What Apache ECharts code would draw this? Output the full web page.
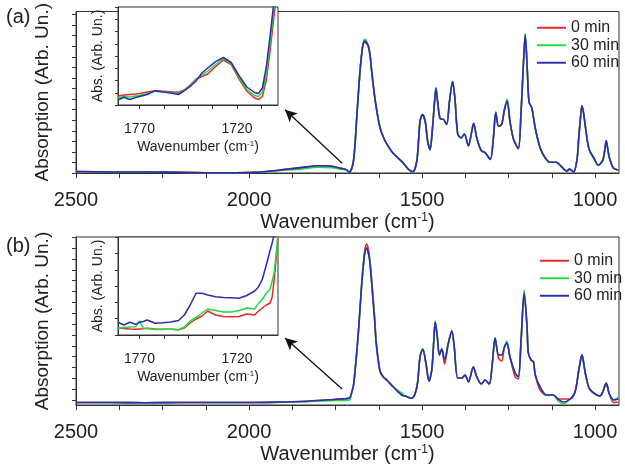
<!DOCTYPE html>
<html><head><meta charset="utf-8">
<script src="https://cdn.jsdelivr.net/npm/echarts@6/dist/echarts.min.js"></script>
<style>html,body{margin:0;padding:0;background:#fff}#c{width:625px;height:465px}</style>
</head><body><div id="c"></div>
<script>
// ---------- DATA ----------
const SERIES_NAMES = ['0 min', '30 min', '60 min'];
const COLORS = ['#e8262b', '#1fdc3c', '#2b2bb8'];

// Panel (a) main spectrum
const WN_A = [2500,2400,2300,2200,2100,2000,1950,1900,1850,1800,1760,1737,1720,1710,
  1703,1698,1693,1689,1684,1679,1674,1670,1666,1663,
  1659,1655,1650,1646,1641,1636,1628,1621,1612,1602,
  1583,1565,1554,1540,1527,1515,1506,1499,1491,1484,
  1477,1470,1464,1460,1455,1448,1438,1429,1421,1412,
  1405,1397,1387,1378,1366,1358,1351,1342,1329,1318,
  1303,1294,1287,1279,1270,1262,1254,1246,1236,1222,
  1214,1207,1202,1196,1191,1183,1173,1159,1145,1130,
  1113,1096,1082,1074,1062,1052,1048,1042,1038,1034,
  1029,1022,1016,1003,991,978,972,968,964,959,
  947,933];
const RED_A = [1.5,1.2,1.0,0.8,0.3,0.5,1.5,3.5,5.5,7.5,7,5,3.5,1,
  5,13,33,56,82,106,124,132.5,134.5,134,
  132.5,130,120,106,90,76,58,46,37,30,
  20,14,10,4,1.3,13,53,60,53,33,
  24,46,73,86,73,56,55,50,73,94,
  76,40,36,40,28,40,51,36,23,21,
  14,36,62,48,50,65,73,53,35,25,
  63,113,140.5,106,73,67,46,26,16,11,
  11,6,2,4,1,15,33,58,69,63,
  50,32,23,15,8,13,24,33,26,16,
  5,3];
const GREEN_A = [1.5,1.2,1.0,0.8,0.3,0.5,1.3,2.8,4,6,5.5,4,3,1,
  5,13,33,56,82,106,124,134,137.5,137,
  134,131,120,106,90,76,58,46,37,30,
  20,14,10,4,1.3,13,53,60,53,33,
  24,46,73,88,73,56,55,50,73,94,
  76,40,36,40,28,40,51,36,23,21,
  14,36,63,48,50,66,76,53,35,25,
  63,113,143.5,106,73,67,46,26,16,11,
  11,6,2,4,1,15,33,58,69,63,
  50,32,23,15,8,13,24,33,26,16,
  5,3];
const BLUE_A = [1.5,1.2,1.0,0.8,0.3,0.5,1.5,3.5,5.5,7.5,7,5,3.5,1,
  5,13,33,56,82,106,124,133,135.5,135,
  133,130,120,106,90,76,58,46,37,30,
  20,14,10,4,1.3,13,53,60,53,33,
  24,46,73,87,73,56,55,50,73,94,
  76,40,36,40,28,40,51,36,23,21,
  14,36,62,48,50,65,74,53,35,25,
  63,113,142,106,73,67,46,26,16,11,
  11,6,2,4,1,15,33,58,69,63,
  50,32,23,15,8,13,24,33,26,16,
  5,3];

// Panel (a) inset
const WN_INSET_A = [1781,1778,1775,1772,1770,1766,1762,1758,1754,1750,1747,1744,1741,1738,1735,1731,1727,1723,1719,1715,1711,1709,1707,1705,1703,1701,1699];
const RED_INSET_A = [9,10,10.5,11,11.5,13,14.3,13.8,13.3,12.7,15,20,26,28.5,31,38.5,45,40.5,26,14,7,5.7,8.5,25,55,90,120];
const GREEN_INSET_A = [7,8.5,8,9,9.5,11.5,13.8,13.2,12.5,11.5,14.5,19,25.5,30,34,40.5,46.5,41.5,27.5,15.5,9.5,8.5,12.5,31,62,98,125];
const BLUE_INSET_A = [5,7.7,5.5,7.5,8.5,10.5,14.3,13,12,10.5,14.3,18.5,24,32,37,43.3,47.5,42.5,29.5,18,12.5,11.5,17,38,70,105,130];

// Panel (b) main spectrum
const WN_B = [2500,2400,2300,2200,2100,2000,1900,1850,1800,1737,1710,
  1703,1698,1694,1689,1684,1679,1674,1669,1665,1660,
  1656,1652,1647,1642,1637,1633,1627,1621,1612,1602,
  1583,1559,1549,1530,1515,1506,1498,1489,1480,1472,
  1466,1462,1456,1450,1443,1435,1424,1414,1407,1397,
  1385,1376,1366,1352,1342,1329,1318,1306,1297,1289,
  1279,1270,1262,1255,1246,1231,1222,1214,1205,1197,
  1193,1185,1178,1173,1159,1140,1121,1107,1092,1072,
  1058,1048,1042,1038,1034,1029,1022,1016,1000,986,
  978,972,968,964,959,946,933];
const RED_B = [2.5,2.5,2.3,2.5,2.5,2.5,3,3.5,4.5,6,7,
  13,20,33,52,73,98,123,143,156,161,
  157,149,131,110,88,66,47,34,28,25,
  18,10,9,6.7,18,48,56,42,24,35,
  65,83,68,50,56,41,62,74,58,27,
  27,30,23,38,28,21,25,21,42,67,
  46.7,44,58,62,48,28,26,63,111,80,
  52,45,43,30,15,10,10,6,6,6,
  13,33,45,50,44,33,22,16,11,9,
  13,19,22,18,11,2.3,3];
const GREEN_B = [2.5,2.5,2.3,2.5,2.5,2.5,3,3.2,4,4.5,5,
  13,20,33,52,73,98,123,142,153,157,
  153,146,128,106,84,63,45,33,28,25,
  18,12,9,6.7,18,48,56,42,24,35,
  65,84,68,50,56,45,62,74,58,27,
  27,30,23,38,28,21,25,21,42,67,
  50,50,58,64,48,32,28,65,115,80,
  52,45,43,30,18,10,10,4,1.3,6,
  13,33,45,50,44,33,22,16,11,9,
  13,19,22,18,11,5,8];
const BLUE_B = [2.5,2.5,2.3,2.5,2.5,2.5,3,3.5,4.5,6,7,
  13,20,33,52,73,98,123,142,153,157,
  153,146,128,106,84,63,45,33,28,25,
  18,10,9,6.7,18,48,56,42,24,35,
  65,83,68,50,56,45,62,74,58,27,
  27,30,23,38,28,21,25,21,42,67,
  50,50,58,62,48,32,28,65,112,80,
  52,45,43,30,18,10,10,6,3,6,
  13,33,45,50,44,33,22,16,11,9,
  13,19,22,18,11,5,6];

// Panel (b) inset
const WN_INSET_B = [1781,1778,1775,1772,1770,1768,1766,1762,1758,1754,1750,1747,1744,1741,1738,1735,1731,1727,1723,1719,1715,1711,1709,1707,1705,1703,1702,1701,1700,1699];
const RED_INSET_B = [7.3,6.5,6,5.7,6,6.3,6.7,6,5.8,5.7,5.2,7,12,16,19,24,20,18.5,18.3,18.5,21,20,24,27,30,32,38,55,75,100];
const GREEN_INSET_B = [6.7,7.5,8,8.3,14,6.7,6.5,5.5,5.5,6,5.3,8,14,17.5,22,26,24.5,23,23,24.5,27,26,31.7,36,41.7,46,48,62,80,100];
const BLUE_INSET_B = [12.7,10,12.7,10.7,12.7,13.5,15,11.7,12.3,13,14.5,20,30,41.7,41.7,40,38.3,37.5,37.3,36.7,39.5,44,48,56,70,85,92,100,110,120];

// Tick labels
const MAIN_X_LABELS = [2500, 2000, 1500, 1000];
const INSET_X_LABELS = [1770, 1720];

// Arrow annotations [wavenumber, value]
const ARROW_A = [[1731, 10], [1896, 65]];
const ARROW_B = [[1731, 16], [1896, 67]];

// ---------- CHART ----------
function pairs(xs, ys) { return xs.map((x, i) => [x, ys[i]]); }
function steps(start, end, step) { const r = []; for (let v = start; v <= end + 1e-6; v += step) r.push(+v.toFixed(3)); return r; }

const FONT = 'Liberation Sans, Arial, sans-serif';
const AXC = '#333';
const TXT = '#222';
const plain = v => String(v);

const mainXTicks = steps(1000, 2500, 125);
const insetXTicks = steps(1707.5, 1781, 12.5);

function wnName(size) {
  return {
    name: '{n|Wavenumber (cm}{s|-1}{n|)}',
    nameLocation: 'middle',
    nameTextStyle: { rich: { n: { fontSize: size, color: TXT, fontFamily: FONT }, s: { fontSize: Math.round(size * 0.6), color: TXT, fontFamily: FONT, verticalAlign: 'top' } } }
  };
}

function xMain(gi) {
  return Object.assign({
    gridIndex: gi, type: 'value', inverse: true, min: 931, max: 2500,
    nameGap: 39,
    axisLine: { lineStyle: { color: AXC, width: 1 } },
    axisTick: { customValues: mainXTicks, length: 5, lineStyle: { color: AXC } },
    axisLabel: { customValues: MAIN_X_LABELS, formatter: plain, fontSize: 20, color: TXT, fontFamily: FONT, margin: 17, showMaxLabel: true, showMinLabel: true },
    splitLine: { show: false }
  }, wnName(20));
}
function xInset(gi) {
  return Object.assign({
    gridIndex: gi, type: 'value', inverse: true, min: 1699, max: 1781,
    nameGap: 35,
    axisLine: { lineStyle: { color: AXC, width: 1 } },
    axisTick: { customValues: insetXTicks, length: 4, lineStyle: { color: AXC } },
    axisLabel: { customValues: INSET_X_LABELS, formatter: plain, fontSize: 14, color: TXT, fontFamily: FONT, margin: 17 },
    splitLine: { show: false }
  }, wnName(14));
}
function yAxis(gi, max, ticks, name, size, gap, tlen) {
  return {
    gridIndex: gi, type: 'value', min: 0, max: max,
    name: name, nameLocation: 'middle', nameGap: gap,
    nameTextStyle: { fontSize: size, color: TXT, fontFamily: FONT },
    axisLine: { show: true, lineStyle: { color: AXC, width: 1 } },
    axisTick: { show: true, customValues: ticks, length: tlen, lineStyle: { color: AXC } },
    axisLabel: { show: false },
    splitLine: { show: false }
  };
}

function line(name, xi, data, color, w, smooth, extra) {
  return Object.assign({
    name: name, type: 'line', xAxisIndex: xi, yAxisIndex: xi,
    data: data, symbol: 'none', smooth: smooth, clip: true,
    lineStyle: { color: color, width: w }, itemStyle: { color: color }
  }, extra || {});
}
function arrow(pts) {
  return {
    silent: true, symbol: ['none', 'arrow'], symbolSize: [9, 12],
    label: { show: false },
    lineStyle: { color: '#111', width: 1.3, type: 'solid' },
    data: [[{ coord: pts[0] }, { coord: pts[1] }]]
  };
}

const legendCommon = {
  orient: 'vertical', itemWidth: 29, itemHeight: 2, itemGap: 0,
  icon: 'path://M0,0 L30,0 L30,2 L0,2 Z',
  textStyle: { fontSize: 16, color: TXT, fontFamily: FONT, lineHeight: 17.5 },
  data: SERIES_NAMES
};

const option = {
  animation: false,
  backgroundColor: '#fff',
  title: [
    { text: '(a)', left: 1, top: 2, textStyle: { fontSize: 20, fontWeight: 'normal', color: TXT, fontFamily: FONT } },
    { text: '(b)', left: 1, top: 231, textStyle: { fontSize: 20, fontWeight: 'normal', color: TXT, fontFamily: FONT } }
  ],
  legend: [
    Object.assign({ left: 532, top: 14 }, legendCommon),
    Object.assign({ left: 535, top: 247 }, legendCommon)
  ],
  grid: [
    { left: 76, top: 7, width: 543, height: 166, show: true, borderColor: AXC, borderWidth: 1 },
    { left: 118, top: 7, width: 160, height: 98, show: true, borderColor: AXC, borderWidth: 1, backgroundColor: '#fff' },
    { left: 76, top: 237, width: 543, height: 168, show: true, borderColor: AXC, borderWidth: 1 },
    { left: 118, top: 237, width: 160, height: 98, show: true, borderColor: AXC, borderWidth: 1, backgroundColor: '#fff' }
  ],
  xAxis: [xMain(0), xInset(1), xMain(2), xInset(3)],
  yAxis: [
    yAxis(0, 166, steps(0, 166, 10.85), 'Absorption (Arb. Un.)', 19, 24, 4),
    yAxis(1, 98, steps(0, 98, 12.25), 'Abs. (Arb. Un.)', 14, 13, 3),
    yAxis(2, 168, steps(5, 168, 10.85), 'Absorption (Arb. Un.)', 19, 24, 4),
    yAxis(3, 98, steps(0, 98, 16.3), 'Abs. (Arb. Un.)', 14, 13, 3)
  ],
  series: [
    line(SERIES_NAMES[0], 0, pairs(WN_A, RED_A), COLORS[0], 1.6, 0.3),
    line(SERIES_NAMES[1], 0, pairs(WN_A, GREEN_A), COLORS[1], 1.6, 0.3),
    line(SERIES_NAMES[2], 0, pairs(WN_A, BLUE_A), COLORS[2], 1.6, 0.3, { markLine: arrow(ARROW_A) }),
    line(SERIES_NAMES[0], 1, pairs(WN_INSET_A, RED_INSET_A), COLORS[0], 1.5, false),
    line(SERIES_NAMES[1], 1, pairs(WN_INSET_A, GREEN_INSET_A), COLORS[1], 1.5, false),
    line(SERIES_NAMES[2], 1, pairs(WN_INSET_A, BLUE_INSET_A), COLORS[2], 1.5, false),
    line(SERIES_NAMES[0], 2, pairs(WN_B, RED_B), COLORS[0], 1.6, 0.3),
    line(SERIES_NAMES[1], 2, pairs(WN_B, GREEN_B), COLORS[1], 1.6, 0.3),
    line(SERIES_NAMES[2], 2, pairs(WN_B, BLUE_B), COLORS[2], 1.6, 0.3, { markLine: arrow(ARROW_B) }),
    line(SERIES_NAMES[0], 3, pairs(WN_INSET_B, RED_INSET_B), COLORS[0], 1.5, false),
    line(SERIES_NAMES[1], 3, pairs(WN_INSET_B, GREEN_INSET_B), COLORS[1], 1.5, false),
    line(SERIES_NAMES[2], 3, pairs(WN_INSET_B, BLUE_INSET_B), COLORS[2], 1.5, false)
  ]
};

const chart = echarts.init(document.getElementById('c'), null, { renderer: 'canvas' });
chart.setOption(option);
</script>
</body></html>
